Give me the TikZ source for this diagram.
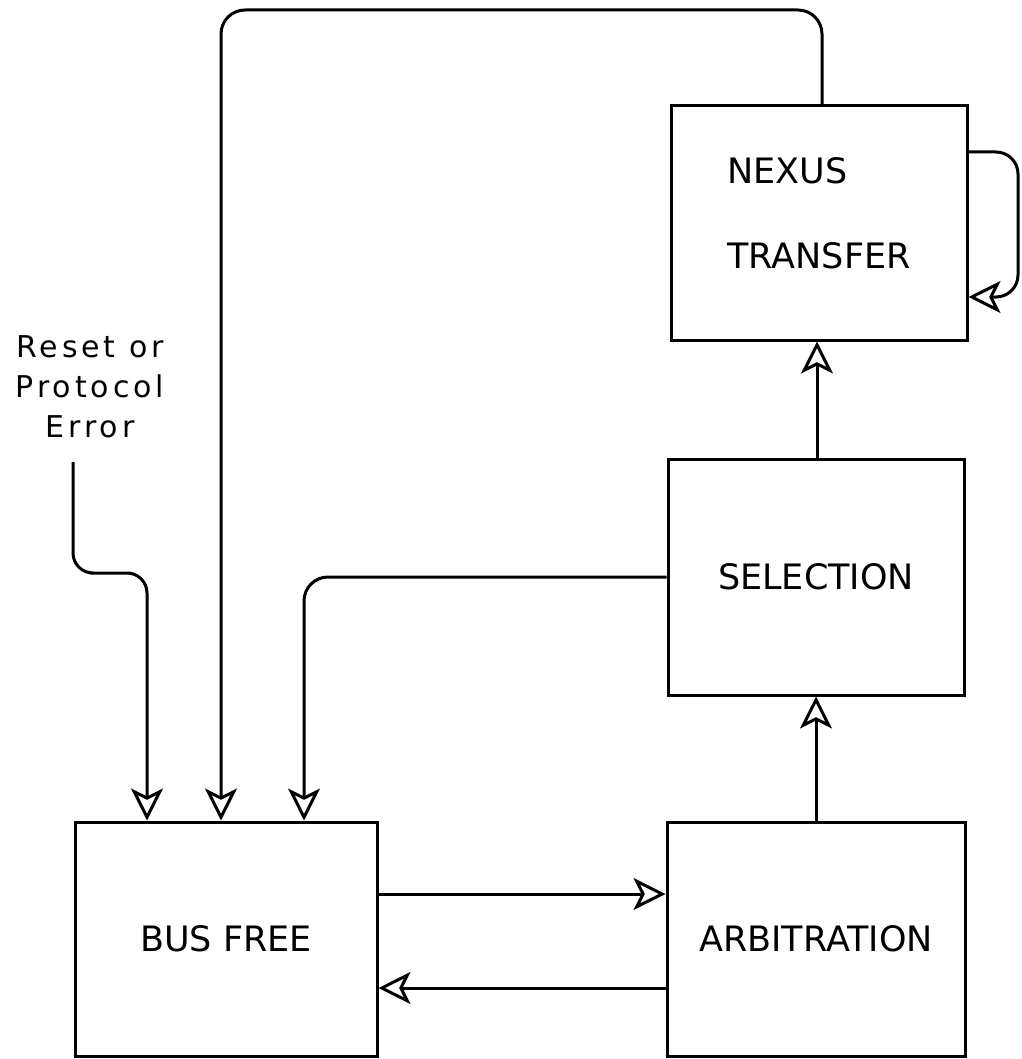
\documentclass[tikz,border=0pt]{standalone}
\usepackage{fontspec}
\setmainfont{DejaVu Sans}
\newfontfamily\lblfont[LetterSpace=13]{DejaVu Sans}
\usetikzlibrary{arrows.meta}
\begin{document}
\begin{tikzpicture}[x=1pt,y=-1pt,
  box/.style={draw, line width=3pt, inner sep=0pt, font=\fontsize{35}{42}\selectfont},
  arr/.style={draw, line width=3pt, -{Stealth[open, length=32pt, width=32pt, inset=8pt]}}
]
\useasboundingbox (0,0) rectangle (1021,1059);
\fill[white] (0,0) rectangle (1021,1059);

% boxes
\node[box, minimum width=296pt, minimum height=234pt, align=left, text depth=20pt,
      font=\fontsize{35}{85}\selectfont] (nexus) at (819,223) {NEXUS\\TRANSFER};
\node[box, minimum width=296pt, minimum height=236pt] (selection) at (816,577) {SELECTION};
\node[box, minimum width=298pt, minimum height=234pt] (arbitration) at (816,939) {ARBITRATION};
\node[box, minimum width=302pt, minimum height=234pt] (busfree) at (226,939) {BUS FREE};

% reset label
\node[font={\lblfont\fontsize{30}{40}\selectfont}, align=center, anchor=north, inner sep=0pt]
  (reset) at (90,335) {Reset or\\Protocol\\Error};

% helper coordinates
\coordinate (topL) at (221,10);
\coordinate (topR) at (822,10);
\coordinate (rs) at (73,462);
\coordinate (rk) at (110,573);
\coordinate (h1) at (0,894);
\coordinate (h2) at (0,988);
\coordinate (l1) at (1018,152);
\coordinate (l2) at (1018,297);

% connectors
\draw[arr, rounded corners=24pt] (nexus.north -| topR) -- (topR) -- (topL) -- (busfree.north -| topL);
\draw[arr, rounded corners=24pt] (selection.west) -| ([xshift=78pt]busfree.north);
\draw[arr, rounded corners=20pt] (rs) |- (rk) -| ([xshift=-79pt]busfree.north);
\draw[arr] (busfree.east |- h1) -- (arbitration.west |- h1);
\draw[arr] (arbitration.west |- h2) -- (busfree.east |- h2);
\draw[arr] (arbitration.north) -- (selection.south);
\draw[arr] ([xshift=1pt]selection.north) -- ([xshift=1pt]selection.north |- nexus.south);
\draw[arr, rounded corners=22pt] (nexus.east |- l1) -- (l1) -- (l2) -- (nexus.east |- l2);
\end{tikzpicture}
\end{document}
